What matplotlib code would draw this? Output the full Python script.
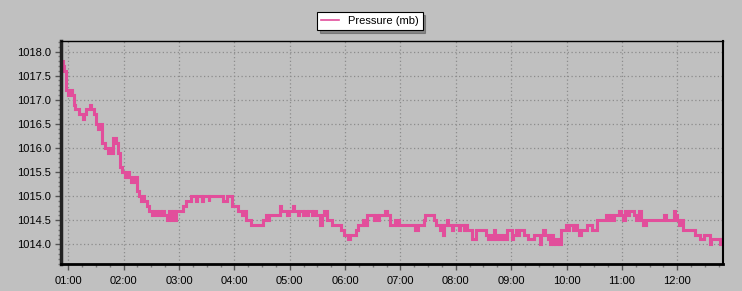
import pandas as pd
import matplotlib
matplotlib.use("Agg")
import matplotlib.pyplot as plt
import matplotlib.dates as mdates
from matplotlib.ticker import MultipleLocator

plt.rcParams['font.family'] = ['Liberation Sans', 'DejaVu Sans']

# readings (change points, value held until the next one)
times = ["00:51", "00:54", "00:55", "00:57", "00:58", "01:00", "01:02", "01:04", "01:06", "01:07",
         "01:12", "01:16", "01:17", "01:19", "01:23", "01:25", "01:28", "01:30", "01:32", "01:34",
         "01:36", "01:37", "01:40", "01:43", "01:45", "01:47", "01:48", "01:52", "01:54", "01:56",
         "01:58", "02:02", "02:04", "02:06", "02:08", "02:10", "02:11", "02:13", "02:15", "02:17",
         "02:19", "02:21", "02:22", "02:25", "02:27", "02:31", "02:33", "02:36", "02:38", "02:40",
         "02:42", "02:44", "02:47", "02:49", "02:51", "02:53", "02:56", "02:57", "03:04", "03:08",
         "03:13", "03:18", "03:19", "03:25", "03:26", "03:32", "03:33", "03:48", "03:52", "03:57",
         "04:04", "04:08", "04:11", "04:13", "04:18", "04:31", "04:34", "04:36", "04:37", "04:50",
         "04:51", "04:57", "04:59", "05:04", "05:05", "05:09", "05:10", "05:14", "05:15", "05:19",
         "05:20", "05:24", "05:25", "05:28", "05:33", "05:35", "05:37", "05:40", "05:46", "05:56",
         "05:59", "06:03", "06:05", "06:12", "06:14", "06:19", "06:21", "06:24", "06:31", "06:32",
         "06:36", "06:37", "06:43", "06:45", "06:49", "06:54", "06:55", "06:57", "06:58", "07:16",
         "07:19", "07:25", "07:27", "07:36", "07:38", "07:43", "07:44", "07:46", "07:47", "07:50",
         "07:52", "07:56", "07:57", "08:04", "08:05", "08:09", "08:10", "08:12", "08:18", "08:22",
         "08:33", "08:35", "08:37", "08:39", "08:41", "08:42", "08:45", "08:47", "08:50", "08:52",
         "08:55", "09:01", "09:02", "09:05", "09:06", "09:08", "09:14", "09:18", "09:25", "09:31",
         "09:32", "09:34", "09:37", "09:40", "09:41", "09:42", "09:43", "09:45", "09:46", "09:48",
         "09:51", "09:52", "09:54", "09:59", "10:02", "10:03", "10:07", "10:09", "10:11", "10:13",
         "10:16", "10:22", "10:28", "10:33", "10:43", "10:46", "10:47", "10:50", "10:51", "10:57",
         "10:59", "11:01", "11:03", "11:07", "11:08", "11:13", "11:15", "11:19", "11:21", "11:23",
         "11:26", "11:46", "11:48", "11:56", "11:58", "12:00", "12:02", "12:04", "12:06", "12:19",
         "12:25", "12:29", "12:36", "12:37", "12:46", "12:47", "12:52"]
pressure = [1017.8, 1017.7, 1017.6, 1017.3, 1017.2, 1017.1, 1017.2, 1017.1, 1016.9, 1016.8,
            1016.7, 1016.6, 1016.7, 1016.8, 1016.9, 1016.8, 1016.7, 1016.5, 1016.4, 1016.5,
            1016.3, 1016.1, 1016.0, 1015.9, 1016.0, 1015.9, 1016.2, 1016.1, 1015.9, 1015.6,
            1015.5, 1015.4, 1015.5, 1015.4, 1015.3, 1015.4, 1015.3, 1015.4, 1015.1, 1015.0,
            1014.9, 1015.0, 1014.9, 1014.8, 1014.7, 1014.6, 1014.7, 1014.6, 1014.7, 1014.6,
            1014.7, 1014.6, 1014.5, 1014.7, 1014.5, 1014.7, 1014.5, 1014.7, 1014.8, 1014.9,
            1015.0, 1014.9, 1015.0, 1014.9, 1015.0, 1014.9, 1015.0, 1014.9, 1015.0, 1014.8,
            1014.7, 1014.6, 1014.7, 1014.5, 1014.4, 1014.5, 1014.6, 1014.5, 1014.6, 1014.8,
            1014.7, 1014.6, 1014.7, 1014.8, 1014.7, 1014.6, 1014.7, 1014.6, 1014.7, 1014.6,
            1014.7, 1014.6, 1014.7, 1014.6, 1014.4, 1014.6, 1014.7, 1014.5, 1014.4, 1014.3,
            1014.2, 1014.1, 1014.2, 1014.3, 1014.4, 1014.5, 1014.4, 1014.6, 1014.5, 1014.6,
            1014.5, 1014.6, 1014.7, 1014.6, 1014.4, 1014.5, 1014.4, 1014.5, 1014.4, 1014.3,
            1014.4, 1014.5, 1014.6, 1014.5, 1014.4, 1014.3, 1014.4, 1014.2, 1014.4, 1014.5,
            1014.4, 1014.3, 1014.4, 1014.3, 1014.4, 1014.3, 1014.4, 1014.3, 1014.1, 1014.3,
            1014.2, 1014.1, 1014.2, 1014.1, 1014.3, 1014.1, 1014.2, 1014.1, 1014.2, 1014.1,
            1014.3, 1014.1, 1014.2, 1014.3, 1014.2, 1014.3, 1014.2, 1014.1, 1014.2, 1014.0,
            1014.2, 1014.3, 1014.2, 1014.1, 1014.2, 1014.0, 1014.2, 1014.0, 1014.1, 1014.0,
            1014.1, 1014.0, 1014.3, 1014.4, 1014.3, 1014.4, 1014.3, 1014.4, 1014.3, 1014.2,
            1014.3, 1014.4, 1014.3, 1014.5, 1014.6, 1014.5, 1014.6, 1014.5, 1014.6, 1014.7,
            1014.6, 1014.5, 1014.7, 1014.6, 1014.7, 1014.6, 1014.5, 1014.7, 1014.5, 1014.4,
            1014.5, 1014.6, 1014.5, 1014.7, 1014.6, 1014.5, 1014.4, 1014.5, 1014.3, 1014.2,
            1014.1, 1014.2, 1014.0, 1014.1, 1014.0, 1014.1, 1014.1]

day = "2020-01-01 "
t = pd.to_datetime([day + s for s in times])

bg = '#C0C0C0'
fig = plt.figure(figsize=(7.42, 2.91), dpi=100, facecolor=bg)
ax = fig.add_axes([61/742, 1-264/291, (723-61)/742, (264-41)/291])
ax.set_facecolor(bg)

ax.plot(t, pressure, drawstyle='steps-post', color='#E24E9B', lw=2.2,
        label='Pressure (mb)', solid_joinstyle='miter')

ax.set_xlim(pd.Timestamp(day + "00:52:06"), pd.Timestamp(day + "12:49:36"))
ax.set_ylim(1013.59, 1018.22)

ax.xaxis.set_major_locator(mdates.HourLocator())
ax.xaxis.set_minor_locator(mdates.MinuteLocator(byminute=[15, 30, 45]))
ax.xaxis.set_major_formatter(mdates.DateFormatter('%H:%M'))
ax.yaxis.set_major_locator(MultipleLocator(0.5))
ax.yaxis.set_minor_locator(MultipleLocator(0.1))
ax.yaxis.set_major_formatter(plt.FuncFormatter(lambda v, p: '%.1f' % v))

ax.grid(True, which='major', color='#8C8C8C', linestyle=(0, (1, 2)), lw=0.9)
ax.tick_params(which='major', length=4, width=1, color='#555555', labelsize=8, pad=3)
ax.tick_params(which='minor', length=2.5, width=1, color='#777777')
ax.tick_params(axis='x', pad=5)

for s in ['top', 'right', 'bottom']:
    ax.spines[s].set_color('black')
ax.spines['top'].set_linewidth(1)
ax.spines['right'].set_linewidth(1.5)
ax.spines['bottom'].set_linewidth(2)
ax.spines['left'].set_linewidth(2.5)
ax.spines['left'].set_color('#222222')

leg = fig.legend(loc='center', bbox_to_anchor=(370/742, 1-21/291), fontsize=8,
                 frameon=True, fancybox=False, shadow=True, handlelength=1.6,
                 borderpad=0.35, handletextpad=0.8)
leg.get_frame().set_edgecolor('black')
leg.get_frame().set_facecolor('white')
leg.get_frame().set_linewidth(0.8)
for line in leg.get_lines():
    line.set_linewidth(1.2)

fig.savefig('out.png', dpi=100, facecolor=bg)
